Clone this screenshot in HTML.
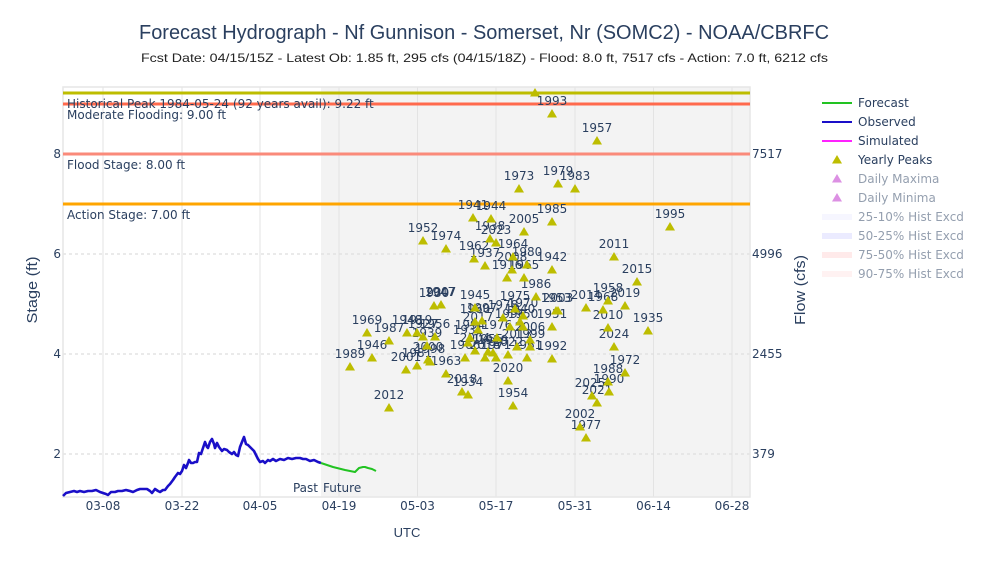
<!DOCTYPE html>
<html><head><meta charset="utf-8"><style>
html,body{margin:0;padding:0;background:#fff;}
svg{display:block;}
.t{font-family:"DejaVu Sans",Verdana,sans-serif;font-size:12px;fill:#2a3f5f;}
.lab{font-family:"DejaVu Sans",Verdana,sans-serif;font-size:12px;fill:#2a3f5f;text-anchor:middle;}
.ls{font-family:"Liberation Sans",Arial,sans-serif;fill:#2a3f5f;}
</style></head><body>
<svg width="988" height="565" viewBox="0 0 988 565" xmlns="http://www.w3.org/2000/svg">
<rect x="0" y="0" width="988" height="565" fill="#fff"/>
<!-- title -->
<text class="ls" x="484" y="39" font-size="20" text-anchor="middle" textLength="690" lengthAdjust="spacingAndGlyphs">Forecast Hydrograph - Nf Gunnison - Somerset, Nr (SOMC2) - NOAA/CBRFC</text>
<text class="ls" x="484.5" y="62" font-size="12" fill="#222" text-anchor="middle" textLength="687" lengthAdjust="spacingAndGlyphs" style="fill:#222">Fcst Date: 04/15/15Z - Latest Ob: 1.85 ft, 295 cfs (04/15/18Z) - Flood: 8.0 ft, 7517 cfs - Action: 7.0 ft, 6212 cfs</text>

<!-- plot bg -->
<rect x="63" y="87" width="687" height="410" fill="#fff"/>
<rect x="321" y="87" width="429" height="410" fill="#f3f3f3"/>
<!-- vertical grid -->
<g stroke="#e3e3e3" stroke-width="1">
<line x1="103" y1="87" x2="103" y2="497"/>
<line x1="182" y1="87" x2="182" y2="497"/>
<line x1="260" y1="87" x2="260" y2="497"/>
<line x1="339" y1="87" x2="339" y2="497"/>
<line x1="417.5" y1="87" x2="417.5" y2="497"/>
<line x1="496" y1="87" x2="496" y2="497"/>
<line x1="575" y1="87" x2="575" y2="497"/>
<line x1="653.5" y1="87" x2="653.5" y2="497"/>
<line x1="732" y1="87" x2="732" y2="497"/>
</g>
<!-- horizontal dashed grid -->
<g stroke="#dedede" stroke-width="1.2" stroke-dasharray="3,3">
<line x1="63" y1="254" x2="750" y2="254"/>
<line x1="63" y1="354" x2="750" y2="354"/>
<line x1="63" y1="454" x2="750" y2="454"/>
</g>
<!-- border -->
<rect x="63" y="87" width="687" height="410" fill="none" stroke="#e6e6e6" stroke-width="1.5"/>

<!-- threshold lines -->
<line x1="63" y1="93" x2="750" y2="93" stroke="#bdbd00" stroke-width="3"/>
<line x1="63" y1="104" x2="750" y2="104" stroke="#ff6a4d" stroke-width="3"/>
<line x1="63" y1="154" x2="750" y2="154" stroke="#fa8a7a" stroke-width="3"/>
<line x1="63" y1="204" x2="750" y2="204" stroke="#ffa500" stroke-width="3"/>

<text class="t" x="67" y="108">Historical Peak 1984-05-24 (92 years avail): 9.22 ft</text>
<text class="t" x="67" y="119">Moderate Flooding: 9.00 ft</text>
<text class="t" x="67" y="169">Flood Stage: 8.00 ft</text>
<text class="t" x="67" y="219">Action Stage: 7.00 ft</text>

<!-- observed -->
<polyline fill="none" stroke="#1a0fc8" stroke-width="2.6" stroke-linejoin="round" points="63,496 66,493 70,492 74,491 77,492 80,491 84,492 88,491 92,491 96,490 100,492 103,493 106,494 108,495 111,492 115,492 118,491 122,491 126,490 130,491 133,492 137,490 140,489 144,489 147,489 150,491 152,493 155,489 158,491 160,492 163,490 165,490 168,486 170,484 173,480 175,477 178,473 180,474 182,471 184,465 186,468 188,463 189,460 191,463 193,463 195,462 197,462 199,453 201,454 203,448 205,442 207,447 208,448 210,442 212,439 214,444 215,448 217,443 219,447 222,451 224,449 227,450 229,452 232,454 234,452 236,455 238,456 240,447 242,442 244,437 246,444 248,445 250,447 252,449 254,451 256,455 258,459 260,462 263,461 265,463 268,460 270,461 273,459 276,461 280,459 284,460 288,458 292,459 296,458 300,458 303,459 306,459 310,461 314,460 318,462 321,463"/>
<!-- forecast -->
<polyline fill="none" stroke="#22c322" stroke-width="2" stroke-linejoin="round" points="321,463 333,467 345,470 355,472 359,468 363,467 365,467 368,468 372,469 376,471"/>

<text class="t" x="318" y="492" text-anchor="end">Past</text>
<text class="t" x="323" y="492">Future</text>

<!-- yearly peaks -->
<g id="pk" fill="#bdbd00">
</g>
<g fill="#bdbd00">
<polygon points="530,96.5 540,96.5 535,88"/>
</g>
<g class="lab">
<text x="552" y="105">1993</text><text x="597" y="132">1957</text><text x="519" y="180">1973</text><text x="558" y="175">1979</text><text x="575" y="180">1983</text><text x="552" y="213">1985</text><text x="670" y="218">1995</text><text x="473" y="209">1941</text><text x="491" y="210">1944</text><text x="524" y="223">2005</text><text x="423" y="232">1952</text><text x="446" y="240">1974</text><text x="490" y="230">1938</text><text x="496" y="234">2023</text><text x="474" y="250">1962</text><text x="513" y="248">1964</text><text x="485" y="257">1937</text><text x="512" y="261">2008</text><text x="527" y="256">1980</text><text x="507" y="269">1916</text><text x="524" y="269">1965</text><text x="552" y="261">1942</text><text x="536" y="288">1986</text><text x="558" y="302">2003</text><text x="556" y="302">1953</text><text x="586" y="299">2014</text><text x="608" y="292">1958</text><text x="603" y="301">1968</text><text x="625" y="297">2019</text><text x="614" y="248">2011</text><text x="637" y="273">2015</text><text x="608" y="319">2010</text><text x="648" y="322">1935</text><text x="552" y="318">1951</text><text x="614" y="338">2024</text><text x="552" y="350">1992</text><text x="625" y="364">1972</text><text x="608" y="373">1988</text><text x="609" y="383">1990</text><text x="590" y="387">2025</text><text x="597" y="394">2021</text><text x="580" y="418">2002</text><text x="586" y="429">1977</text><text x="367" y="324">1969</text><text x="389" y="332">1987</text><text x="372" y="349">1946</text><text x="350" y="358">1989</text><text x="389" y="399">2012</text><text x="406" y="361">2001</text><text x="417" y="357">1981</text><text x="407" y="324">1948</text><text x="417" y="324">1919</text><text x="423" y="328">1927</text><text x="435" y="328">1956</text><text x="427" y="337">1939</text><text x="428" y="351">2000</text><text x="430" y="353">1998</text><text x="446" y="365">1963</text><text x="462" y="383">2018</text><text x="468" y="386">1934</text><text x="508" y="372">2020</text><text x="513" y="397">1954</text><text x="434" y="297">1930</text><text x="441" y="296">2007</text><text x="440" y="296">1947</text><text x="475" y="299">1945</text><text x="515" y="300">1975</text><text x="482" y="312">1997</text><text x="503" y="309">1978</text><text x="523" y="307">1970</text><text x="510" y="318">1996</text><text x="523" y="318">1950</text><text x="475" y="313">1960</text><text x="478" y="321">2017</text><text x="470" y="329">1994</text><text x="497" y="329">1976</text><text x="530" y="331">2006</text><text x="468" y="334">1931</text><text x="517" y="338">2013</text><text x="530" y="338">1999</text><text x="475" y="342">2004</text><text x="493" y="344">1929</text><text x="508" y="346">2022</text><text x="485" y="349">2016</text><text x="496" y="349">1971</text><text x="527" y="349">1961</text><text x="465" y="349">1966</text><text x="488" y="343">1955</text><text x="520" y="313">1940</text>
</g>
<g fill="#bdbd00">
<polygon points="547,117.5 557,117.5 552,109"/><polygon points="592,144.5 602,144.5 597,136"/><polygon points="514,192.5 524,192.5 519,184"/><polygon points="553,187.5 563,187.5 558,179"/><polygon points="570,192.5 580,192.5 575,184"/><polygon points="547,225.5 557,225.5 552,217"/><polygon points="665,230.5 675,230.5 670,222"/><polygon points="468,221.5 478,221.5 473,213"/><polygon points="486,222.5 496,222.5 491,214"/><polygon points="519,235.5 529,235.5 524,227"/><polygon points="418,244.5 428,244.5 423,236"/><polygon points="441,252.5 451,252.5 446,244"/><polygon points="485,242.5 495,242.5 490,234"/><polygon points="491,246.5 501,246.5 496,238"/><polygon points="469,262.5 479,262.5 474,254"/><polygon points="508,260.5 518,260.5 513,252"/><polygon points="480,269.5 490,269.5 485,261"/><polygon points="507,273.5 517,273.5 512,265"/><polygon points="522,268.5 532,268.5 527,260"/><polygon points="502,281.5 512,281.5 507,273"/><polygon points="519,281.5 529,281.5 524,273"/><polygon points="547,273.5 557,273.5 552,265"/><polygon points="531,300.5 541,300.5 536,292"/><polygon points="553,314.5 563,314.5 558,306"/><polygon points="551,314.5 561,314.5 556,306"/><polygon points="581,311.5 591,311.5 586,303"/><polygon points="603,304.5 613,304.5 608,296"/><polygon points="598,313.5 608,313.5 603,305"/><polygon points="620,309.5 630,309.5 625,301"/><polygon points="609,260.5 619,260.5 614,252"/><polygon points="632,285.5 642,285.5 637,277"/><polygon points="603,331.5 613,331.5 608,323"/><polygon points="643,334.5 653,334.5 648,326"/><polygon points="547,330.5 557,330.5 552,322"/><polygon points="609,350.5 619,350.5 614,342"/><polygon points="547,362.5 557,362.5 552,354"/><polygon points="620,376.5 630,376.5 625,368"/><polygon points="603,385.5 613,385.5 608,377"/><polygon points="604,395.5 614,395.5 609,387"/><polygon points="587,399.5 597,399.5 592,391"/><polygon points="592,406.5 602,406.5 597,398"/><polygon points="575,430.5 585,430.5 580,422"/><polygon points="581,441.5 591,441.5 586,433"/><polygon points="362,336.5 372,336.5 367,328"/><polygon points="384,344.5 394,344.5 389,336"/><polygon points="367,361.5 377,361.5 372,353"/><polygon points="345,370.5 355,370.5 350,362"/><polygon points="384,411.5 394,411.5 389,403"/><polygon points="401,373.5 411,373.5 406,365"/><polygon points="412,369.5 422,369.5 417,361"/><polygon points="402,336.5 412,336.5 407,328"/><polygon points="412,336.5 422,336.5 417,328"/><polygon points="418,340.5 428,340.5 423,332"/><polygon points="430,340.5 440,340.5 435,332"/><polygon points="422,349.5 432,349.5 427,341"/><polygon points="423,363.5 433,363.5 428,355"/><polygon points="425,365.5 435,365.5 430,357"/><polygon points="441,377.5 451,377.5 446,369"/><polygon points="457,395.5 467,395.5 462,387"/><polygon points="463,398.5 473,398.5 468,390"/><polygon points="503,384.5 513,384.5 508,376"/><polygon points="508,409.5 518,409.5 513,401"/><polygon points="429,309.5 439,309.5 434,301"/><polygon points="436,308.5 446,308.5 441,300"/><polygon points="470,311.5 480,311.5 475,303"/><polygon points="510,312.5 520,312.5 515,304"/><polygon points="477,324.5 487,324.5 482,316"/><polygon points="498,321.5 508,321.5 503,313"/><polygon points="518,319.5 528,319.5 523,311"/><polygon points="505,330.5 515,330.5 510,322"/><polygon points="518,330.5 528,330.5 523,322"/><polygon points="470,325.5 480,325.5 475,317"/><polygon points="473,333.5 483,333.5 478,325"/><polygon points="465,341.5 475,341.5 470,333"/><polygon points="492,341.5 502,341.5 497,333"/><polygon points="525,343.5 535,343.5 530,335"/><polygon points="463,346.5 473,346.5 468,338"/><polygon points="512,350.5 522,350.5 517,342"/><polygon points="525,350.5 535,350.5 530,342"/><polygon points="470,354.5 480,354.5 475,346"/><polygon points="488,356.5 498,356.5 493,348"/><polygon points="503,358.5 513,358.5 508,350"/><polygon points="480,361.5 490,361.5 485,353"/><polygon points="491,361.5 501,361.5 496,353"/><polygon points="522,361.5 532,361.5 527,353"/><polygon points="460,361.5 470,361.5 465,353"/><polygon points="483,355.5 493,355.5 488,347"/><polygon points="515,325.5 525,325.5 520,317"/>
</g>

<!-- left ticks -->
<g class="t" text-anchor="end">
<text x="61" y="158">8</text>
<text x="61" y="258">6</text>
<text x="61" y="358">4</text>
<text x="61" y="458">2</text>
</g>
<!-- right ticks -->
<g class="t">
<text x="752" y="158">7517</text>
<text x="752" y="258">4996</text>
<text x="752" y="358">2455</text>
<text x="752" y="458">379</text>
</g>
<!-- x ticks -->
<g class="t" text-anchor="middle">
<text x="103" y="510">03-08</text>
<text x="182" y="510">03-22</text>
<text x="260" y="510">04-05</text>
<text x="339" y="510">04-19</text>
<text x="417.5" y="510">05-03</text>
<text x="496" y="510">05-17</text>
<text x="575" y="510">05-31</text>
<text x="653.5" y="510">06-14</text>
<text x="732" y="510">06-28</text>
</g>
<!-- axis titles -->
<text class="ls" x="407" y="537" font-size="13" text-anchor="middle">UTC</text>
<text class="ls" font-size="15" text-anchor="middle" transform="translate(37,290) rotate(-90)" textLength="67" lengthAdjust="spacingAndGlyphs">Stage (ft)</text>
<text class="ls" font-size="15" text-anchor="middle" transform="translate(805,290) rotate(-90)" textLength="70" lengthAdjust="spacingAndGlyphs">Flow (cfs)</text>

<!-- legend -->
<line x1="822" y1="103" x2="852" y2="103" stroke="#22c322" stroke-width="2"/>
<line x1="822" y1="122" x2="852" y2="122" stroke="#1a0fc8" stroke-width="2"/>
<line x1="822" y1="141" x2="852" y2="141" stroke="#ff22ff" stroke-width="2"/>
<polygon points="832,163.5 842,163.5 837,155" fill="#bdbd00"/>
<polygon points="832,182.5 842,182.5 837,174" fill="#d884e0" opacity="0.9"/>
<polygon points="832,201.5 842,201.5 837,193" fill="#d884e0" opacity="0.9"/>
<line x1="822" y1="217" x2="852" y2="217" stroke="#f6f6ff" stroke-width="6"/>
<line x1="822" y1="236" x2="852" y2="236" stroke="#ebebff" stroke-width="6"/>
<line x1="822" y1="255" x2="852" y2="255" stroke="#ffeaea" stroke-width="6"/>
<line x1="822" y1="274" x2="852" y2="274" stroke="#fff2f2" stroke-width="6"/>
<g class="t">
<text x="858" y="107">Forecast</text>
<text x="858" y="126">Observed</text>
<text x="858" y="145">Simulated</text>
<text x="858" y="164">Yearly Peaks</text>
</g>
<g class="t" opacity="0.5">
<text x="858" y="183">Daily Maxima</text>
<text x="858" y="202">Daily Minima</text>
<text x="858" y="221">25-10% Hist Excd</text>
<text x="858" y="240">50-25% Hist Excd</text>
<text x="858" y="259">75-50% Hist Excd</text>
<text x="858" y="278">90-75% Hist Excd</text>
</g>
</svg>
</body></html>
